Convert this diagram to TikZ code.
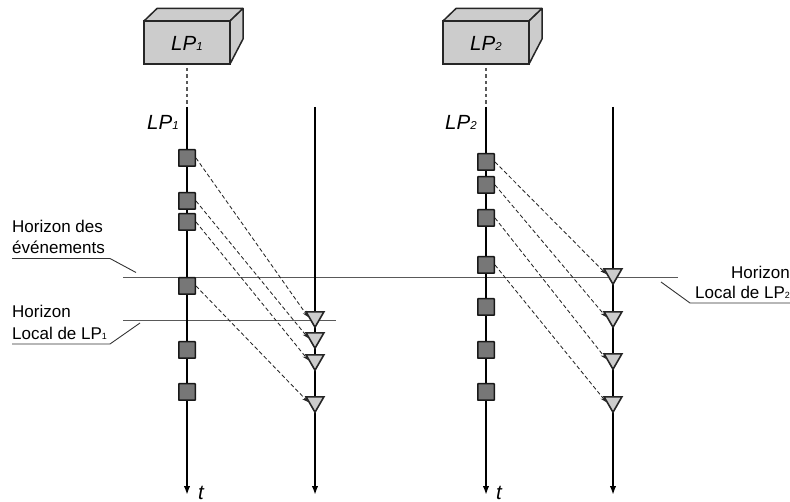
\documentclass[tikz,border=0pt]{standalone}
\usepackage{fontspec}
\setmainfont{Liberation Sans}
\usetikzlibrary{arrows.meta,shapes.geometric}
\definecolor{boxgray}{HTML}{CCCCCC}
\definecolor{sqgray}{HTML}{777777}
\tikzset{
  x=1pt,y=-1pt,
  lpbox/.style={draw=black!85,line width=1.5pt,fill=boxgray,minimum width=86pt,minimum height=43pt,inner sep=0pt,outer sep=0pt},
  boxface/.style={draw=black!85,line width=1.5pt,fill=boxgray,line join=round},
  axis/.style={line width=2pt,black,-{Latex[length=9pt,width=6.5pt]}},
  link/.style={gray!70!black,line width=1.2pt,dash pattern=on 3.5pt off 3pt},
  evt/.style={draw=black!90,line width=1.5pt,fill=sqgray,minimum size=16.5pt,inner sep=0pt,rounded corners=0.5pt},
  tri/.style={regular polygon,regular polygon sides=3,shape border rotate=180,draw=black!85,line width=1.6pt,fill=boxgray,minimum size=20.5pt,inner sep=0pt,line join=miter},
  msg/.style={black!85,line width=0.85pt,dash pattern=on 4pt off 2.5pt,-{Stealth[length=6pt,width=4.5pt]}},
  horizon/.style={black!65,line width=1.2pt},
  leader/.style={black!80,line width=0.9pt},
  txt/.style={anchor=base west,inner sep=0pt,font=\fontsize{17}{17}\selectfont},
  lpl/.style={anchor=base west,inner sep=0pt,font=\fontsize{20.5}{20.5}\selectfont\itshape},
}
\newcommand{\lpsub}[1]{{\fontsize{11.5}{11.5}\selectfont #1}}
\begin{document}
\begin{tikzpicture}
\useasboundingbox (0,0) rectangle (790,502);
% axis coordinates
\coordinate (a1t) at (187,107); \coordinate (a1b) at (187,495);
\coordinate (b1t) at (315,107); \coordinate (b1b) at (315,495);
\coordinate (a2t) at (486,107); \coordinate (a2b) at (486,495);
\coordinate (b2t) at (613,107); \coordinate (b2b) at (613,495);
% horizons
\coordinate (hel) at (123,277.5); \coordinate (her) at (678,277.5);
\coordinate (h1l) at (123,320.5); \coordinate (h1r) at (336,320.5);
\draw[horizon] (hel) -- (her);
\draw[horizon] (h1l) -- (h1r);
% axes
\draw[axis] (a1t) -- (a1b);
\draw[axis] (b1t) -- (b1b);
\draw[axis] (a2t) -- (a2b);
\draw[axis] (b2t) -- (b2b);
% boxes
\node[lpbox] (p1) at (187,42.5) {};
\node[lpbox] (p2) at (486,42.5) {};
\draw[boxface] (p1.north west) -- ++(13,-12.5) -- ++(86,0) -- ++(-13,12.5) -- cycle;
\draw[boxface] (p1.north east) -- ++(13,-12.5) -- ++(0,30.5) -- (p1.south east) -- cycle;
\draw[boxface] (p2.north west) -- ++(13,-12.5) -- ++(86,0) -- ++(-13,12.5) -- cycle;
\draw[boxface] (p2.north east) -- ++(13,-12.5) -- ++(0,30.5) -- (p2.south east) -- cycle;
\node[lpl] (p1t) at (171,51) {LP\lpsub{1}};
\node[lpl] (p2t) at (470,51) {LP\lpsub{2}};
\draw[link] (p1.south) ++(0,4) -- (a1t);
\draw[link] (p2.south) ++(0,4) -- (a2t);
% events LP1
\node[evt] (s1) at (187,158) {};
\node[evt] (s2) at (187,201) {};
\node[evt] (s3) at (187,222) {};
\node[evt] (s4) at (187,286) {};
\node[evt] (s5) at (187,350) {};
\node[evt] (s6) at (187,392) {};
% events LP2
\node[evt] (u1) at (486,162) {};
\node[evt] (u2) at (486,185) {};
\node[evt] (u3) at (486,218) {};
\node[evt] (u4) at (486,265) {};
\node[evt] (u5) at (486,307) {};
\node[evt] (u6) at (486,350) {};
\node[evt] (u7) at (486,392) {};
% triangles
\node[tri] (t1) at (315,317) {};
\node[tri] (t2) at (315,338) {};
\node[tri] (t3) at (315,360) {};
\node[tri] (t4) at (315,402) {};
\node[tri] (v1) at (613,274) {};
\node[tri] (v2) at (613,317) {};
\node[tri] (v3) at (613,359) {};
\node[tri] (v4) at (613,402) {};
% messages
\draw[msg] (s1.east) -- (t1.west);
\draw[msg] (s2.east) -- (t2.west);
\draw[msg] (s3.east) -- (t3.west);
\draw[msg] (s4.east) -- (t4.west);
\draw[msg] (u1.east) -- (v1.west);
\draw[msg] (u2.east) -- (v2.west);
\draw[msg] (u3.east) -- (v3.west);
\draw[msg] (u4.east) -- (v4.west);
% labels
\node[lpl] (l1) at (147,129.5) {LP\lpsub{1}};
\node[lpl] (l2) at (445,129.5) {LP\lpsub{2}};
\node[lpl] (t1lab) at (198,499) {t};
\node[lpl] (t2lab) at (496,499) {t};
\node[txt] (hd) at (12,233) {Horizon des};
\node[txt] (ev) at (12,254) {événements};
\node[txt] (hl) at (12,318) {Horizon};
\node[txt] (ll) at (12,340) {Local de LP{\fontsize{9}{9}\selectfont 1}};
\node[txt] (hr) at (731,278.5) {Horizon};
\node[txt] (lr) at (695,299) {Local de LP{\fontsize{9}{9}\selectfont 2}};
% leaders
\coordinate (c1) at (12,258.5); \coordinate (c2) at (110,258.5); \coordinate (c3) at (136,272.5);
\draw[leader] (c1) -- (c2) -- (c3);
\coordinate (d1) at (12,344); \coordinate (d2) at (110,344); \coordinate (d3) at (140,323);
\draw[leader] (d1) -- (d2) -- (d3);
\coordinate (e1) at (790,303); \coordinate (e2) at (690,303); \coordinate (e3) at (661,282);
\draw[leader] (e1) -- (e2) -- (e3);
\end{tikzpicture}
\end{document}
